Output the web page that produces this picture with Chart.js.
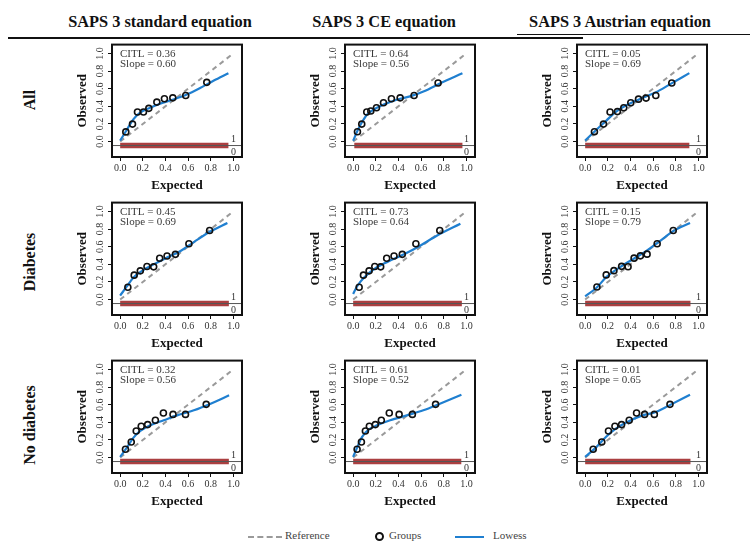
<!DOCTYPE html>
<html>
<head>
<meta charset="utf-8">
<script src="https://cdn.jsdelivr.net/npm/chart.js@4/dist/chart.umd.min.js"></script>
<style>
  body { margin: 0; background: #fff; }
  #page { position: relative; width: 750px; height: 552px; overflow: hidden; font-family: "Liberation Serif", "Times New Roman", serif; }
  canvas { position: absolute; }
  .colTitle, .rowTitle { position: absolute; font-weight: bold; color: #111; white-space: nowrap; }
  .colTitle { font-size: 17px; }
  .rowTitle { font-size: 16px; }
  .rule { position: absolute; background: #111; }
  .legend { position: absolute; top: 529px; font-size: 11px; color: #444; white-space: nowrap; }
</style>
</head>
<body>
<div id="page"></div>
<script>
const columnTitles = ['SAPS 3 standard equation', 'SAPS 3 CE equation', 'SAPS 3 Austrian equation'];
const rowTitles = ['All', 'Diabetes', 'No diabetes'];
const axisTicks = [0, 0.2, 0.4, 0.6, 0.8, 1.0];

const citl = [[0.36, 0.64, 0.05], [0.45, 0.73, 0.15], [0.32, 0.61, 0.01]];
const slope = [[0.60, 0.56, 0.69], [0.69, 0.64, 0.79], [0.56, 0.52, 0.65]];

// observed outcomes rug: range of expected probabilities covered
const rugRange = [
  [[0, 0.956], [0.01, 0.965], [0, 0.92]],
  [[0, 0.96], [0, 0.96], [0, 0.93]],
  [[0, 0.96], [0, 0.955], [0, 0.93]]
];

// grouped [expected, observed]
const allStdGroups = [[0.05,0.11],[0.109,0.198],[0.153,0.336],[0.206,0.336],[0.253,0.377],[0.324,0.448],[0.391,0.485],[0.465,0.496],[0.579,0.522],[0.765,0.672]];
const allCeGroups = [[0.038,0.112],[0.076,0.198],[0.12,0.336],[0.156,0.347],[0.206,0.384],[0.268,0.44],[0.338,0.485],[0.415,0.496],[0.538,0.522],[0.75,0.664]];
const allAutGroups = [[0.082,0.112],[0.162,0.198],[0.22,0.336],[0.285,0.34],[0.341,0.384],[0.403,0.44],[0.471,0.481],[0.538,0.493],[0.624,0.522],[0.765,0.664]];
const diabStdGroups = [[0.068,0.139],[0.124,0.277],[0.178,0.326],[0.237,0.375],[0.296,0.371],[0.349,0.468],[0.414,0.494],[0.488,0.513],[0.607,0.633],[0.79,0.783]];
const diabCeGroups = [[0.053,0.139],[0.091,0.277],[0.141,0.326],[0.191,0.375],[0.243,0.371],[0.296,0.468],[0.361,0.494],[0.434,0.513],[0.554,0.633],[0.765,0.783]];
const diabAutGroups = [[0.104,0.142],[0.186,0.28],[0.254,0.328],[0.322,0.377],[0.379,0.373],[0.432,0.47],[0.488,0.496],[0.547,0.515],[0.636,0.634],[0.778,0.784]];
const noDiabStdGroups = [[0.047,0.094],[0.098,0.177],[0.142,0.302],[0.186,0.355],[0.243,0.374],[0.311,0.423],[0.382,0.506],[0.467,0.49],[0.577,0.49],[0.76,0.604]];
const noDiabCeGroups = [[0.035,0.094],[0.073,0.177],[0.108,0.302],[0.143,0.355],[0.196,0.374],[0.249,0.423],[0.319,0.506],[0.406,0.49],[0.523,0.49],[0.728,0.604]];
const noDiabAutGroups = [[0.071,0.094],[0.147,0.177],[0.206,0.302],[0.263,0.355],[0.322,0.374],[0.389,0.423],[0.454,0.506],[0.525,0.49],[0.611,0.49],[0.749,0.604]];

// lowess curves [expected, observed]
const allStdLowess = [[0,0.01],[0.059,0.134],[0.118,0.254],[0.176,0.328],[0.265,0.384],[0.353,0.429],[0.47,0.478],[0.588,0.534],[0.706,0.608],[0.824,0.69],[0.956,0.776]];
const allCeLowess = [[0,0.01],[0.038,0.123],[0.076,0.216],[0.126,0.31],[0.185,0.366],[0.274,0.422],[0.391,0.478],[0.509,0.515],[0.626,0.571],[0.774,0.664],[0.965,0.776]];
const allAutLowess = [[0,0.011],[0.097,0.131],[0.185,0.235],[0.274,0.34],[0.391,0.429],[0.509,0.496],[0.626,0.56],[0.744,0.646],[0.92,0.776]];
const diabStdLowess = [[0,0.045],[0.059,0.15],[0.118,0.251],[0.207,0.337],[0.296,0.4],[0.414,0.476],[0.533,0.551],[0.651,0.652],[0.799,0.775],[0.947,0.869]];
const diabCeLowess = [[0,0.064],[0.038,0.157],[0.097,0.251],[0.185,0.345],[0.302,0.427],[0.449,0.513],[0.595,0.614],[0.742,0.727],[0.947,0.861]];
const diabAutLowess = [[0,0.037],[0.098,0.131],[0.186,0.254],[0.305,0.366],[0.423,0.459],[0.541,0.552],[0.66,0.664],[0.778,0.776],[0.926,0.869]];
const noDiabStdLowess = [[0,0.008],[0.059,0.113],[0.118,0.226],[0.178,0.302],[0.266,0.366],[0.385,0.423],[0.503,0.479],[0.651,0.536],[0.799,0.611],[0.962,0.706]];
const noDiabCeLowess = [[0,0.008],[0.035,0.113],[0.079,0.234],[0.137,0.317],[0.211,0.366],[0.327,0.423],[0.474,0.479],[0.62,0.536],[0.766,0.611],[0.956,0.713]];
const noDiabAutLowess = [[0,0.008],[0.094,0.113],[0.183,0.234],[0.271,0.328],[0.389,0.415],[0.507,0.479],[0.625,0.517],[0.743,0.592],[0.926,0.713]];

const groups = [
  [allStdGroups, allCeGroups, allAutGroups],
  [diabStdGroups, diabCeGroups, diabAutGroups],
  [noDiabStdGroups, noDiabCeGroups, noDiabAutGroups]
];
const lowess = [
  [allStdLowess, allCeLowess, allAutLowess],
  [diabStdLowess, diabCeLowess, diabAutLowess],
  [noDiabStdLowess, noDiabCeLowess, noDiabAutLowess]
];

const RUG_Y = -0.045;
const BOX_LEFT = [112, 345, 577];
const BOX_TOP = [43, 201, 359];
const BOX_W = 130, BOX_H = 114;
const PAD_L = 40, PAD_T = 4, PAD_R = 10, PAD_B = 38;

const SERIF = '"Liberation Serif", "Times New Roman", serif';
const LOWESS_BLUE = '#1f7fd0';
const RUG_RED = '#ab3f40';

const page = document.getElementById('page');

function addDiv(cls, text, css) {
  const d = document.createElement('div');
  d.className = cls;
  if (text) d.textContent = text;
  Object.assign(d.style, css);
  page.appendChild(d);
  return d;
}

// headers, rules, row labels
const titleX = [160, 384, 620];
columnTitles.forEach((t, i) => addDiv('colTitle', t, { left: titleX[i] + 'px', top: '22px', transform: 'translate(-50%,-50%) scaleX(0.96)' }));
addDiv('rule', '', { left: '8px', top: '37px', width: '575px', height: '2px' });
addDiv('rule', '', { left: '517px', top: '34px', width: '233px', height: '1px' });
const rowY = [100, 262, 425];
rowTitles.forEach((t, i) => addDiv('rowTitle', t, { left: '30px', top: rowY[i] + 'px', transform: 'translate(-50%,-50%) rotate(-90deg)' }));

// frame, rotated y tick labels, rug baseline and annotations
const panelDecor = {
  id: 'panelDecor',
  afterDraw(chart, args, opts) {
    const { ctx, chartArea: a, scales: { x, y } } = chart;
    ctx.save();
    ctx.fillStyle = '#333';
    ctx.font = '10px ' + SERIF;
    ctx.textAlign = 'center';
    ctx.textBaseline = 'alphabetic';
    axisTicks.forEach(v => {
      ctx.save();
      ctx.translate(a.left - 9, y.getPixelForValue(v));
      ctx.rotate(-Math.PI / 2);
      ctx.fillText(v.toFixed(1), 0, 0);
      ctx.restore();
    });

    const ry = y.getPixelForValue(RUG_Y);
    ctx.strokeStyle = '#555';
    ctx.lineWidth = 1;
    ctx.beginPath();
    ctx.moveTo(a.left, ry);
    ctx.lineTo(a.right, ry);
    ctx.stroke();

    ctx.fillStyle = '#333';
    ctx.textBaseline = 'middle';
    const x1 = x.getPixelForValue(1);
    ctx.fillText('1', x1, ry - 6);
    ctx.fillText('0', x1, ry + 7);

    ctx.font = '11px ' + SERIF;
    ctx.textAlign = 'left';
    ctx.fillStyle = '#3a3a3a';
    ctx.fillText('CITL = ' + opts.citl.toFixed(2), a.left + 8, a.top + 10);
    ctx.fillText('Slope = ' + opts.slope.toFixed(2), a.left + 8, a.top + 20);

    ctx.strokeStyle = '#111';
    ctx.lineWidth = 2;
    ctx.strokeRect(a.left, a.top, a.right - a.left, a.bottom - a.top);
    ctx.restore();
  }
};

const toXY = arr => arr.map(p => ({ x: p[0], y: p[1] }));

for (let r = 0; r < 3; r++) {
  for (let c = 0; c < 3; c++) {
    const canvas = document.createElement('canvas');
    canvas.width = PAD_L + BOX_W + PAD_R;
    canvas.height = PAD_T + BOX_H + PAD_B;
    canvas.style.left = (BOX_LEFT[c] - PAD_L) + 'px';
    canvas.style.top = (BOX_TOP[r] - PAD_T) + 'px';
    page.appendChild(canvas);

    const [rugFrom, rugTo] = rugRange[r][c];

    new Chart(canvas, {
      type: 'scatter',
      data: {
        datasets: [
          {
            label: 'Groups',
            data: toXY(groups[r][c]),
            pointRadius: 3,
            pointBorderWidth: 1.6,
            pointBorderColor: '#111',
            pointBackgroundColor: 'rgba(0,0,0,0)',
            order: 0
          },
          {
            label: 'Lowess',
            data: toXY(lowess[r][c]),
            showLine: true,
            borderColor: LOWESS_BLUE,
            borderWidth: 2.2,
            pointRadius: 0,
            cubicInterpolationMode: 'monotone',
            order: 1
          },
          {
            label: 'Reference',
            data: [{ x: 0, y: 0 }, { x: 1, y: 1 }],
            showLine: true,
            borderColor: '#9a9a9a',
            borderWidth: 2,
            borderDash: [5, 4],
            pointRadius: 0,
            order: 2
          },
          {
            label: 'Rug',
            data: [{ x: rugFrom, y: RUG_Y }, { x: rugTo, y: RUG_Y }],
            showLine: true,
            borderColor: RUG_RED,
            borderWidth: 5.5,
            borderCapStyle: 'butt',
            pointRadius: 0,
            order: 3
          }
        ]
      },
      options: {
        responsive: false,
        animation: false,
        devicePixelRatio: 1,
        layout: { padding: { left: PAD_L - 37, top: PAD_T, right: PAD_R, bottom: 2 } },
        plugins: {
          legend: { display: false },
          tooltip: { enabled: false },
          panelDecor: { citl: citl[r][c], slope: slope[r][c] }
        },
        scales: {
          x: {
            type: 'linear',
            min: -0.072,
            max: 1.076,
            afterBuildTicks: s => { s.ticks = axisTicks.map(v => ({ value: v })); },
            afterFit: s => { s.height = 36; },
            border: { display: false },
            grid: { drawOnChartArea: false, drawTicks: true, tickLength: 4, color: '#111' },
            ticks: {
              autoSkip: false, maxRotation: 0, padding: 1,
              color: '#333', font: { family: SERIF, size: 10 },
              callback: v => Number(v).toFixed(1)
            },
            title: { display: true, text: 'Expected', color: '#111', padding: 0, font: { family: SERIF, size: 13, weight: 'bold' } }
          },
          y: {
            type: 'linear',
            min: -0.175,
            max: 1.1,
            afterBuildTicks: s => { s.ticks = axisTicks.map(v => ({ value: v })); },
            afterFit: s => { s.width = 37; },
            border: { display: false },
            grid: { drawOnChartArea: false, drawTicks: true, tickLength: 4, color: '#111' },
            ticks: { display: false },
            title: { display: true, text: 'Observed', color: '#111', padding: 0, font: { family: SERIF, size: 13, weight: 'bold' } }
          }
        }
      },
      plugins: [panelDecor]
    });
  }
}

// legend row
const legend = addDiv('legend', '', { left: '0px', width: '750px', height: '16px' });
legend.innerHTML =
  '<div style="position:absolute;left:248px;top:7px;width:34px;border-top:2px dashed #9a9a9a"></div>' +
  '<div style="position:absolute;left:285px;top:0">Reference</div>' +
  '<div style="position:absolute;left:375px;top:3px;width:5px;height:5px;border:2px solid #111;border-radius:50%"></div>' +
  '<div style="position:absolute;left:389px;top:0">Groups</div>' +
  '<div style="position:absolute;left:455px;top:7px;width:29px;border-top:2px solid ' + LOWESS_BLUE + '"></div>' +
  '<div style="position:absolute;left:493px;top:0">Lowess</div>';
</script>
</body>
</html>
